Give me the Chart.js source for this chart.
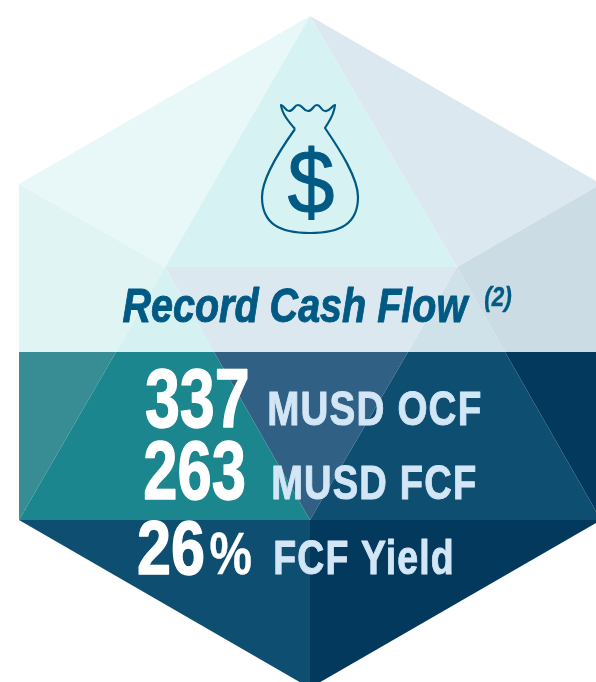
<!DOCTYPE html>
<html>
<head>
<meta charset="utf-8">
<title>Record Cash Flow</title>
<script src="https://cdn.jsdelivr.net/npm/chart.js@4"></script>
<style>
  html, body { margin: 0; padding: 0; background: #fff; }
  canvas { display: block; }
</style>
</head>
<body>
<canvas id="hexChart" width="596" height="682"></canvas>
<script>
// Text of the card
const title = "Record Cash Flow";
const titleNote = "(2)";
const figures = ["337", "263", "26"];
const figureSuffix = "%";
const units = ["MUSD OCF", "MUSD FCF", "FCF Yield"];

// Facets of the hexagon, as [x, y] corners
const facetCorners = [
  [[310, 16], [19, 184], [165, 267]],
  [[310, 16], [165, 267], [457, 267]],
  [[310, 16], [601, 184], [457, 267]],
  [[19, 184], [165, 267], [116, 352], [19, 352]],
  [[165, 267], [116, 352], [214, 352]],
  [[165, 267], [457, 267], [408, 352], [214, 352]],
  [[457, 267], [408, 352], [505, 352]],
  [[457, 267], [601, 184], [601, 352], [505, 352]],
  [[19, 352], [116, 352], [19, 520]],
  [[116, 352], [214, 352], [310, 520], [19, 520]],
  [[214, 352], [408, 352], [310, 520]],
  [[408, 352], [505, 352], [601, 520], [310, 520]],
  [[505, 352], [601, 352], [601, 520]],
  [[19, 520], [310, 520], [310, 688]],
  [[310, 520], [601, 520], [310, 688]],
];
const facetColors = [
  "#e8f7f7", "#d6f2f2", "#dce8ef", "#e0f5f3", "#d6f1f1", "#dce8ef", "#cfe2e9", "#cbdce5",
  "#388c94", "#1b868e", "#316085", "#0d4e71", "#02395d", "#0d4e71", "#02395d",
];

const BLUE = "#005a83";
const WHITE = "#ffffff";
const PALE = "#d2e6f6";
const NARROW = '"Liberation Sans Narrow", "Liberation Sans", sans-serif';

// Text squeezed or stretched so that it spans x0..x1, thickened by a stroke
function fitText(ctx, text, x0, x1, baseline, font, color, weight = 0, spacing = 0) {
  ctx.save();
  ctx.font = font;
  ctx.letterSpacing = spacing + "px";
  ctx.fillStyle = color;
  ctx.strokeStyle = color;
  ctx.lineJoin = "round";
  ctx.textBaseline = "alphabetic";
  const m = ctx.measureText(text);
  const ink = m.actualBoundingBoxRight + m.actualBoundingBoxLeft;
  const sx = (x1 - x0 - weight) / ink;
  ctx.translate(x0 + weight / 2 + m.actualBoundingBoxLeft * sx, baseline);
  ctx.scale(sx, 1);
  ctx.fillText(text, 0, 0);
  if (weight) {
    ctx.lineWidth = weight;
    ctx.strokeText(text, 0, 0);
  }
  ctx.restore();
}

// Fill each facet dataset from the points the library placed
const facetPlugin = {
  id: "facets",
  beforeDatasetsDraw(chart) {
    const ctx = chart.ctx;
    chart.data.datasets.forEach((ds, i) => {
      const pts = chart.getDatasetMeta(i).data;
      ctx.beginPath();
      pts.forEach((p, j) => (j ? ctx.lineTo(p.x, p.y) : ctx.moveTo(p.x, p.y)));
      ctx.closePath();
      ctx.fillStyle = ds.backgroundColor;
      ctx.fill();
    });
  },
};

// Money bag icon and all the text
const cardPlugin = {
  id: "card",
  afterDatasetsDraw(chart) {
    const ctx = chart.ctx;

    ctx.save();
    ctx.strokeStyle = BLUE;
    ctx.lineWidth = 2.2;
    ctx.lineJoin = "round";
    ctx.beginPath();
    ctx.moveTo(295, 129);
    ctx.bezierCurveTo(280, 150, 262, 178, 262, 197);
    ctx.bezierCurveTo(262, 224, 280, 233, 310, 233);
    ctx.bezierCurveTo(340, 233, 358, 224, 358, 197);
    ctx.bezierCurveTo(358, 178, 340, 150, 325, 128);
    ctx.bezierCurveTo(329, 121, 334, 116, 335, 105);
    ctx.bezierCurveTo(331, 106, 330, 112, 325, 111);
    ctx.bezierCurveTo(321, 111, 321, 105, 317, 105);
    ctx.bezierCurveTo(313, 105, 313, 111, 308, 111);
    ctx.bezierCurveTo(303, 111, 303, 105, 298, 105);
    ctx.bezierCurveTo(294, 105, 294, 111, 289, 111);
    ctx.bezierCurveTo(285, 111, 285, 106, 281, 105);
    ctx.bezierCurveTo(282, 114, 289, 122, 295, 129);
    ctx.stroke();
    ctx.restore();
    fitText(ctx, "$", 287, 334, 213, '90px "Liberation Sans", sans-serif', BLUE, 1);

    fitText(ctx, title, 122, 470, 322, `italic bold 49px ${NARROW}`, BLUE, 1);
    fitText(ctx, titleNote, 484, 512, 306, `italic bold 27px ${NARROW}`, BLUE, 0.4);

    fitText(ctx, figures[0], 145, 248, 427, `bold 83px ${NARROW}`, WHITE, 1.4);
    fitText(ctx, figures[1], 144, 245, 499, `bold 83px ${NARROW}`, WHITE, 1.4);
    fitText(ctx, figures[2], 138, 204, 574, `bold 76px ${NARROW}`, WHITE, 1.4);
    fitText(ctx, figureSuffix, 210, 251, 574, `bold 60px ${NARROW}`, WHITE, 0.4);

    fitText(ctx, units[0], 269, 481, 425, `bold 49px ${NARROW}`, PALE, 1, 1.5);
    fitText(ctx, units[1], 273, 476, 499, `bold 49px ${NARROW}`, PALE, 1, 1.5);
    fitText(ctx, units[2], 275, 452, 574, `bold 49px ${NARROW}`, PALE, 1, 1.5);
  },
};

new Chart(document.getElementById("hexChart"), {
  type: "scatter",
  data: {
    datasets: facetCorners.map((corners, i) => ({
      data: corners.map(([x, y]) => ({ x, y })),
      backgroundColor: facetColors[i],
      pointRadius: 0,
      showLine: false,
    })),
  },
  options: {
    responsive: false,
    animation: false,
    layout: { padding: 0 },
    plugins: { legend: { display: false }, tooltip: { enabled: false } },
    scales: {
      x: { type: "linear", display: false, min: 0, max: 596 },
      y: { type: "linear", display: false, min: 0, max: 682, reverse: true },
    },
  },
  plugins: [facetPlugin, cardPlugin],
});
</script>
</body>
</html>
